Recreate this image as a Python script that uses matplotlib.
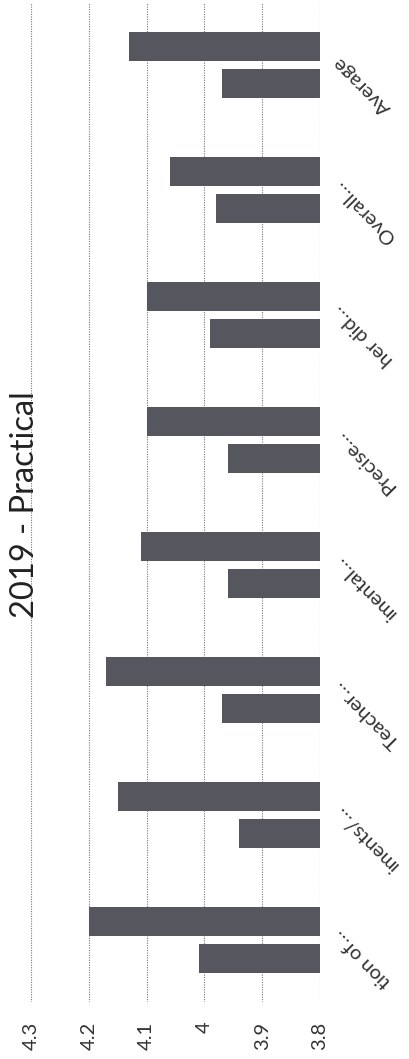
import matplotlib
matplotlib.use("Agg")
import matplotlib.pyplot as plt

# scanned Excel column chart, page turned on its side
categories = ["tion of…", "iments/…", "Teacher…", "imental…",
              "Precise…", "her did…", "Overall…", "Average"]
series_a = [4.01, 3.94, 3.97, 3.96, 3.96, 3.99, 3.98, 3.97]
series_b = [4.20, 4.15, 4.17, 4.11, 4.10, 4.10, 4.06, 4.13]
ticks = [4.3, 4.2, 4.1, 4.0, 3.9, 3.8]
tick_labels = ["4.3", "4.2", "4.1", "4", "3.9", "3.8"]
title = "2019 - Practical"

plt.rcParams['font.family'] = ['Lato', 'DejaVu Sans']

fig = plt.figure(figsize=(4.10, 10.59), dpi=100)
ax = fig.add_axes([0.0756, 0.0538, 0.705, 0.9434])

base = 3.8
pos = list(range(len(categories)))
bar_color = '#56565e'
ax.barh([p - 0.148 for p in pos], [v - base for v in series_a], left=base,
        height=0.232, color=bar_color, zorder=3)
ax.barh([p + 0.148 for p in pos], [v - base for v in series_b], left=base,
        height=0.232, color=bar_color, zorder=3)

ax.set_xlim(4.3, 3.8)
ax.set_ylim(-0.5, len(categories) - 0.5)
ax.set_xticks(ticks)
ax.set_xticklabels(tick_labels)
ax.tick_params(axis='x', length=0, pad=14, labelrotation=90,
               labelsize=14.5, labelcolor='#333333')
ax.set_yticks([])
for t in ticks:
    ax.axvline(t, color='#777777', lw=0.8, ls=(0, (1, 1.2)), zorder=1)
for s in ax.spines.values():
    s.set_visible(False)

# category labels, slanted as in the original chart
for p, name in zip(pos, categories):
    ax.text(1.055, p + 0.05, name, transform=ax.get_yaxis_transform(),
            rotation=135, rotation_mode='anchor', ha='right', va='center',
            fontsize=14.5, color='#333333', clip_on=False)

fig.text(25 / 410, 1 - 505 / 1059, title, rotation=90, ha='center',
         va='center', fontsize=23.5, color='#222222')

fig.savefig("out.png", dpi=100)
